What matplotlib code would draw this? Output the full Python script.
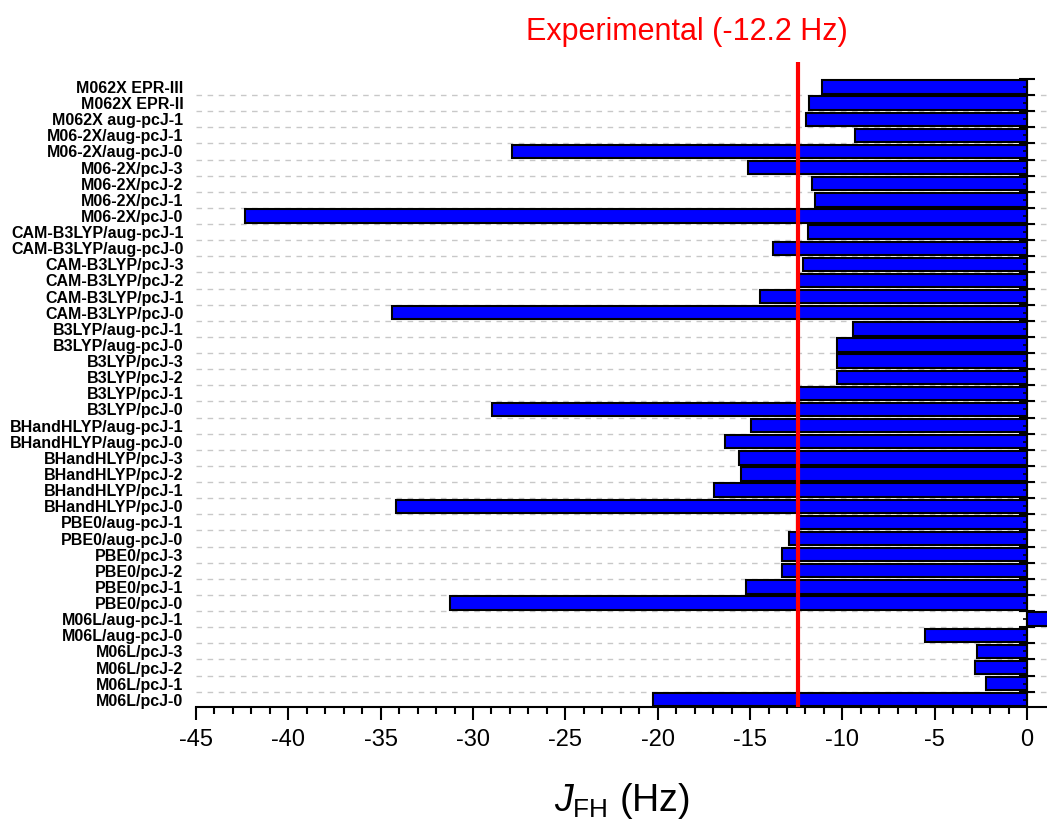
import numpy as np
import matplotlib
matplotlib.use("Agg")
import matplotlib.pyplot as plt

plt.rcParams['font.family'] = ['Liberation Sans', 'DejaVu Sans']
plt.rcParams['mathtext.fontset'] = 'custom'
plt.rcParams['mathtext.rm'] = 'Liberation Sans'
plt.rcParams['mathtext.it'] = 'Liberation Sans:italic'

# methods, top to bottom as in the figure
methods = [
    "M062X EPR-III", "M062X EPR-II", "M062X aug-pcJ-1",
    "M06-2X/aug-pcJ-1", "M06-2X/aug-pcJ-0", "M06-2X/pcJ-3", "M06-2X/pcJ-2",
    "M06-2X/pcJ-1", "M06-2X/pcJ-0",
    "CAM-B3LYP/aug-pcJ-1", "CAM-B3LYP/aug-pcJ-0", "CAM-B3LYP/pcJ-3",
    "CAM-B3LYP/pcJ-2", "CAM-B3LYP/pcJ-1", "CAM-B3LYP/pcJ-0",
    "B3LYP/aug-pcJ-1", "B3LYP/aug-pcJ-0", "B3LYP/pcJ-3", "B3LYP/pcJ-2",
    "B3LYP/pcJ-1", "B3LYP/pcJ-0",
    "BHandHLYP/aug-pcJ-1", "BHandHLYP/aug-pcJ-0", "BHandHLYP/pcJ-3",
    "BHandHLYP/pcJ-2", "BHandHLYP/pcJ-1", "BHandHLYP/pcJ-0",
    "PBE0/aug-pcJ-1", "PBE0/aug-pcJ-0", "PBE0/pcJ-3", "PBE0/pcJ-2",
    "PBE0/pcJ-1", "PBE0/pcJ-0",
    "M06L/aug-pcJ-1", "M06L/aug-pcJ-0", "M06L/pcJ-3", "M06L/pcJ-2",
    "M06L/pcJ-1", "M06L/pcJ-0",
]
j_fh = [
    -11.08, -11.80, -11.95,
    -9.30, -27.90, -15.12, -11.66, -11.48, -42.36,
    -11.84, -13.73, -12.11, -12.33, -14.46, -34.38,
    -9.44, -10.30, -10.30, -10.27, -12.38, -28.95,
    -14.96, -16.35, -15.59, -15.50, -16.93, -34.18,
    -12.47, -12.87, -13.28, -13.27, -15.21, -31.24,
    1.5, -5.52, -2.71, -2.82, -2.20, -20.27,
]
exp_line = -12.38
exp_label = "Experimental (-12.2 Hz)"

n = len(methods)
pos = np.arange(n)[::-1]          # top item at highest y
bounds = np.arange(n - 1) + 0.5

fig = plt.figure(figsize=(10.47, 8.31), dpi=100)
ax = fig.add_axes([0.1872, 0.1492, 0.8128, 0.7762])

# dashed separators between rows
ax.hlines(bounds, -45, 1.08, colors='#c8c8c8', linestyles=(0, (4, 4)), lw=1, zorder=0)

ax.barh(pos, j_fh, height=0.83, color='#0000ff', edgecolor='black', lw=1.5, zorder=2)

# y axis drawn at x = 0 with ticks on both sides
ax.vlines(0, -0.45, n - 0.5, colors='black', lw=1.5, zorder=3)
ax.plot(np.zeros(n), np.arange(n) + 0.5, ls='none', marker='_', ms=12, mew=1.5,
        color='black', zorder=3, clip_on=False)
ax.plot(np.zeros(n), pos, ls='none', marker=0, ms=3, mew=1.2, color='black', zorder=3)

ax.axvline(exp_line, color='red', lw=3, zorder=4)

ax.set_xlim(-45, 1.08)
ax.set_ylim(-0.45, n + 0.55)
ax.set_xticks(np.arange(-45, 1, 5))
ax.set_xticks(np.arange(-45, 1, 1), minor=True)
ax.set_xticklabels([str(v) for v in range(-45, 1, 5)])
ax.set_yticks(pos)
ax.set_yticklabels(methods, fontsize=11.5, fontweight='bold')
ax.tick_params(axis='y', length=0, pad=9)
ax.tick_params(axis='x', which='major', direction='out', length=9.5, width=1.5,
               labelsize=17, pad=6)
ax.tick_params(axis='x', which='minor', direction='out', length=5, width=1.5)

for s in ['top', 'right', 'left']:
    ax.spines[s].set_visible(False)
ax.spines['bottom'].set_linewidth(1.5)

ax.set_xlabel(r'$\mathit{J}_{\mathrm{FH}}$ (Hz)', fontsize=27, labelpad=22)

fig.text(0.656, 0.961, exp_label, color='red', fontsize=22, ha='center', va='center')

fig.savefig("out.png", dpi=100)
